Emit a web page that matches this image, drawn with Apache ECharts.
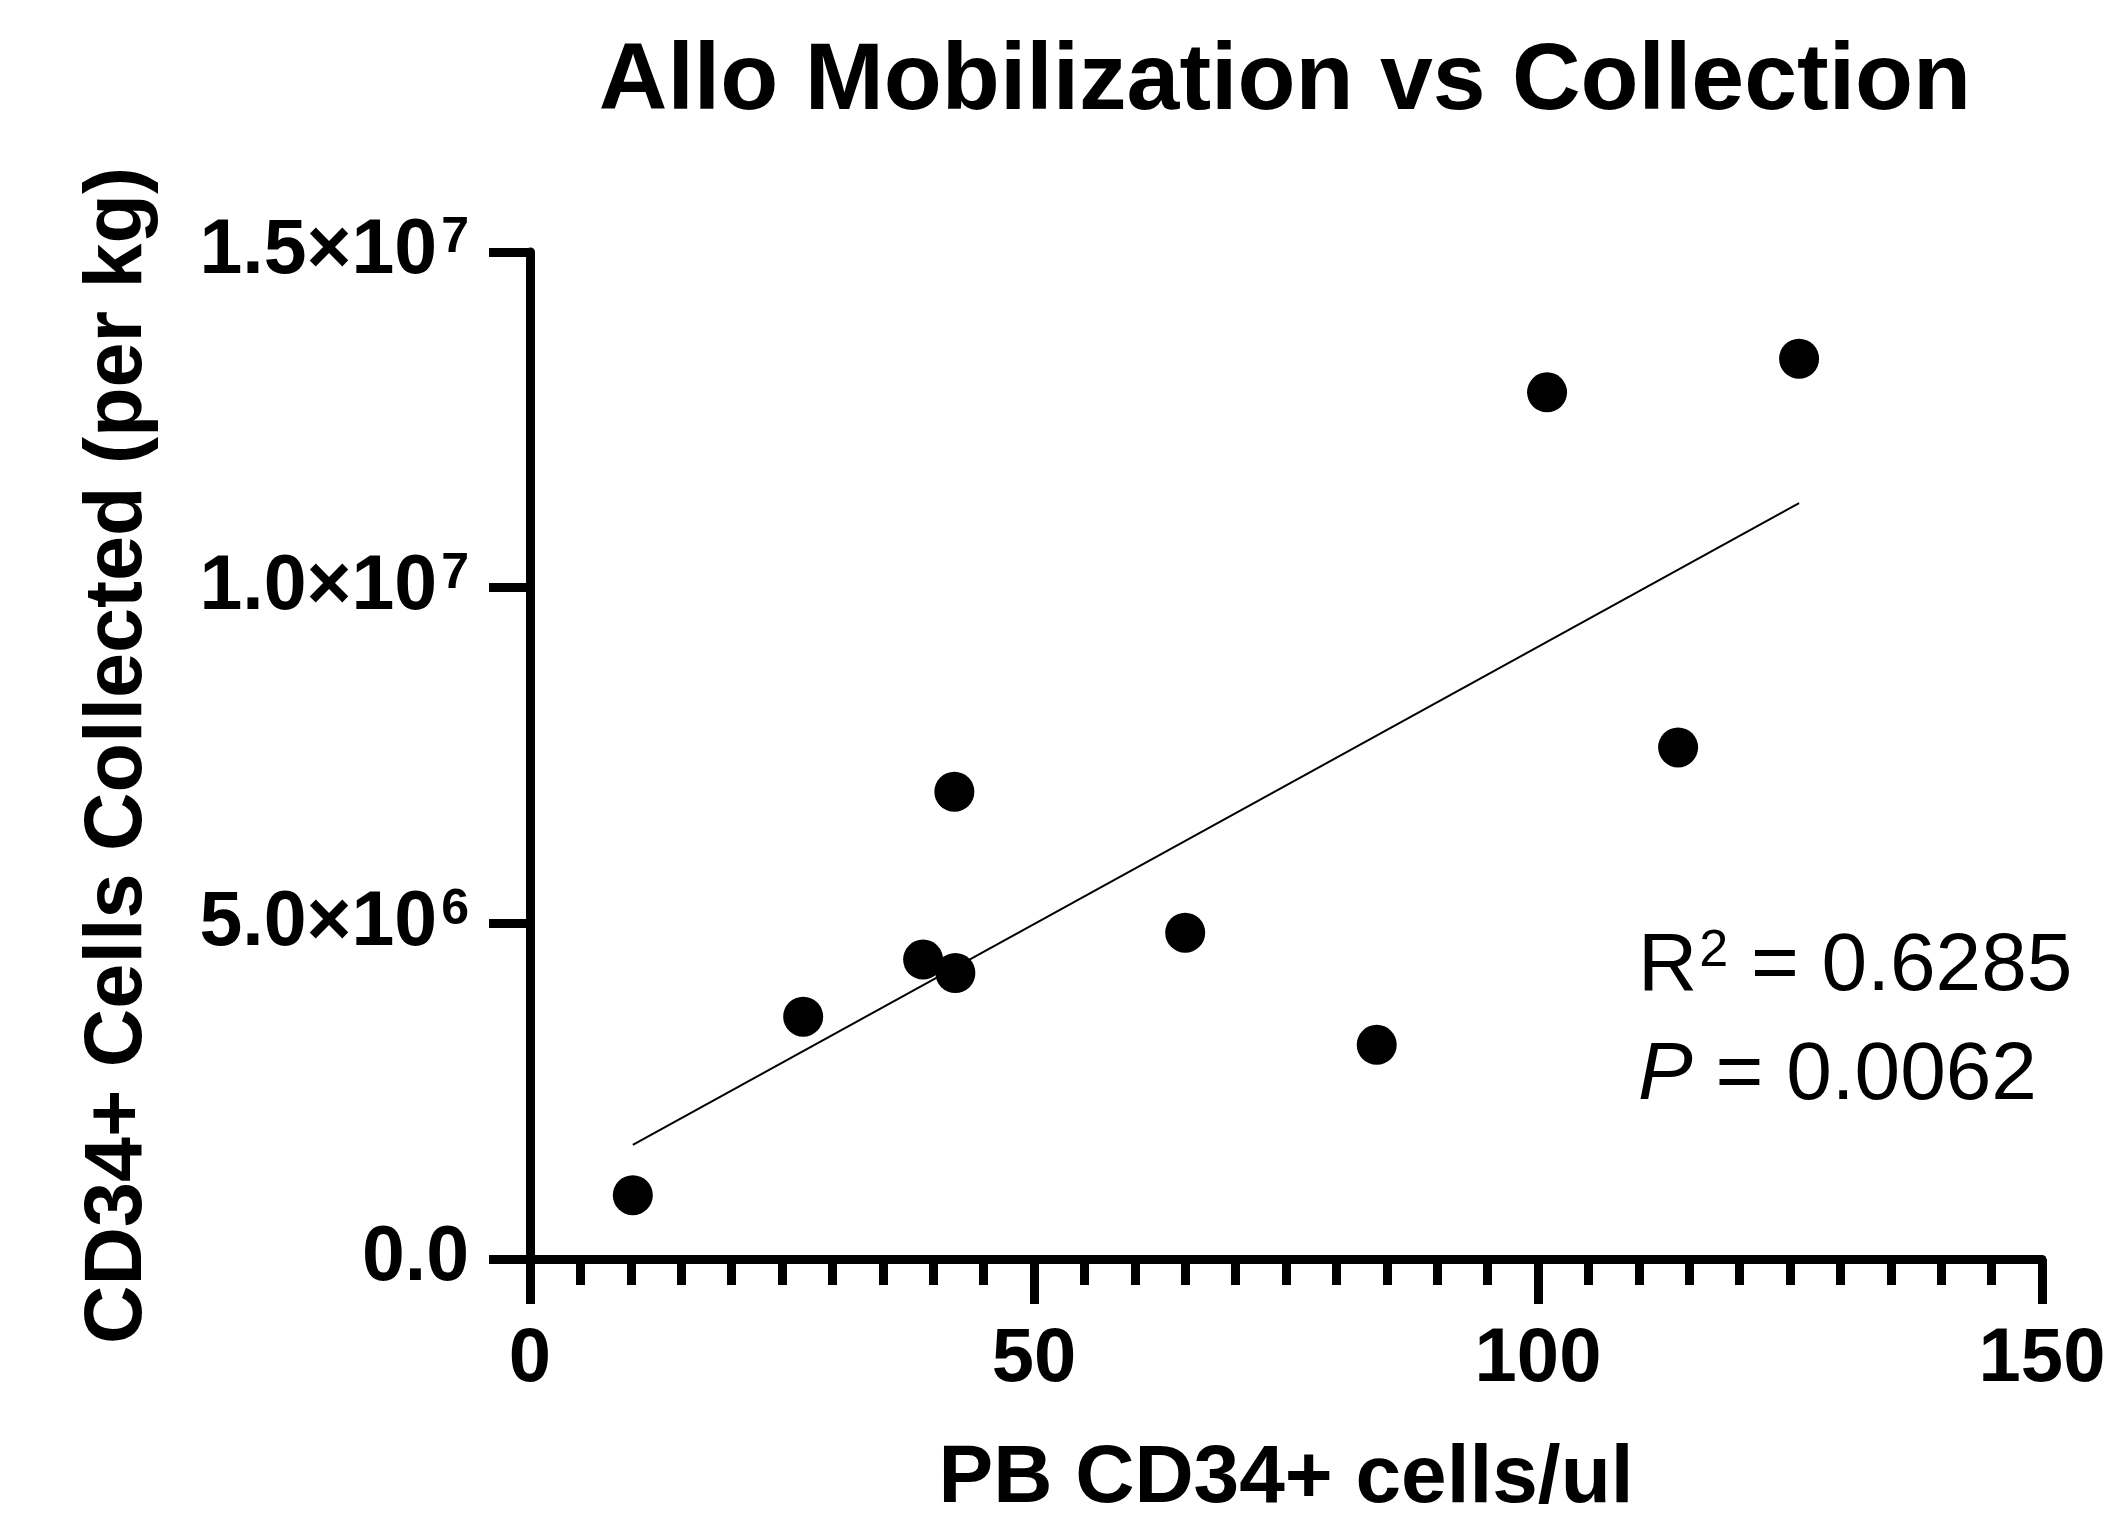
<!DOCTYPE html>
<html>
<head>
<meta charset="utf-8">
<script src="https://cdn.jsdelivr.net/npm/echarts@6/dist/echarts.min.js"></script>
<style>
  html, body { margin: 0; padding: 0; background: #fff; }
  #chart { width: 2114px; height: 1525px; }
</style>
</head>
<body>
<div id="chart"></div>
<script>
// values
var pbCd34 = [10.2, 27.1, 39.0, 42.2, 42.1, 65.0, 84.0, 100.9, 113.9, 125.9];
var cd34Collected = [0.95e6, 3.61e6, 4.46e6, 4.26e6, 6.96e6, 4.86e6, 3.19e6, 12.91e6, 7.62e6, 13.41e6];
// regression line ends, as drawn
var fitX = [10.2, 125.9];
var fitY = [1.70e6, 11.26e6];
var yTickValues = [0, 5e6, 1e7, 1.5e7];
var yTickText = ['{m|0.0}', '{m|5.0×10}{s|6}', '{m|1.0×10}{s|7}', '{m|1.5×10}{s|7}'];
var statLines = ['{r|R}{s|2}{r| = 0.6285}', '{i|P}{r| = 0.0062}'];

var FONT = '"Liberation Sans", Arial, sans-serif';

var points = pbCd34.map(function (x, i) { return [x, cd34Collected[i]]; });
var fit = fitX.map(function (x, i) { return [x, fitY[i]]; });

var myChart = echarts.init(document.getElementById('chart'));

var axisBlack = { color: '#000', width: 9 };

var option = {
  backgroundColor: '#fff',
  animation: false,
  title: {
    text: 'Allo Mobilization vs Collection',
    left: 1285,
    top: 35,
    textAlign: 'center',
    padding: 0,
    textStyle: {
      fontFamily: FONT,
      fontWeight: 'bold',
      fontSize: 95,
      color: '#000'
    }
  },
  grid: {
    left: 530,
    right: 72,
    top: 252,
    bottom: 265,
    containLabel: false
  },
  xAxis: {
    type: 'value',
    min: 0,
    max: 150,
    interval: 50,
    name: 'PB CD34+ cells/ul',
    nameLocation: 'middle',
    nameGap: 179,
    nameTextStyle: {
      fontFamily: FONT,
      fontWeight: 'bold',
      fontSize: 82,
      color: '#000'
    },
    axisLine: { show: true, lineStyle: axisBlack },
    axisTick: { show: true, length: 45, lineStyle: axisBlack },
    minorTick: { show: true, splitNumber: 10, length: 26, lineStyle: axisBlack },
    splitLine: { show: false },
    axisLabel: {
      margin: 63,
      fontFamily: FONT,
      fontWeight: 'bold',
      fontSize: 76,
      color: '#000'
    }
  },
  yAxis: {
    type: 'value',
    min: 0,
    max: 1.5e7,
    interval: 5e6,
    name: 'CD34+ Cells Collected (per kg)',
    nameLocation: 'middle',
    nameRotate: 90,
    nameGap: 371,
    nameTextStyle: {
      fontFamily: FONT,
      fontWeight: 'bold',
      fontSize: 81,
      color: '#000'
    },
    axisLine: { show: true, lineStyle: axisBlack },
    axisTick: { show: true, length: 41, lineStyle: axisBlack },
    splitLine: { show: false },
    axisLabel: {
      margin: 61,
      formatter: function (val) {
        var k = yTickValues.indexOf(val);
        return k >= 0 ? yTickText[k] : '';
      },
      rich: {
        m: { fontFamily: FONT, fontWeight: 'bold', fontSize: 77, lineHeight: 77, color: '#000' },
        s: { fontFamily: FONT, fontWeight: 'bold', fontSize: 50, lineHeight: 38, verticalAlign: 'top', color: '#000', padding: [0, 0, 0, 4] }
      }
    }
  },
  graphic: [
    {
      type: 'text',
      left: 1638,
      top: 926,
      style: {
        text: statLines[0],
        rich: {
          r: { fontFamily: FONT, fontSize: 82, lineHeight: 82, fill: '#000' },
          s: { fontFamily: FONT, fontSize: 52, lineHeight: 50, verticalAlign: 'top', fill: '#000', padding: [0, 0, 0, 2] }
        }
      }
    },
    {
      type: 'text',
      left: 1638,
      top: 1035,
      style: {
        text: statLines[1],
        rich: {
          i: { fontFamily: FONT, fontSize: 82, lineHeight: 82, fontStyle: 'italic', fill: '#000' },
          r: { fontFamily: FONT, fontSize: 82, lineHeight: 82, fill: '#000' }
        }
      }
    }
  ],
  series: [
    {
      name: 'fit',
      type: 'line',
      data: fit,
      symbol: 'none',
      lineStyle: { color: '#000', width: 2 },
      z: 2
    },
    {
      name: 'donors',
      type: 'scatter',
      data: points,
      symbol: 'circle',
      symbolSize: 40,
      itemStyle: { color: '#000', opacity: 1 },
      z: 3
    }
  ]
};

myChart.setOption(option);
</script>
</body>
</html>
